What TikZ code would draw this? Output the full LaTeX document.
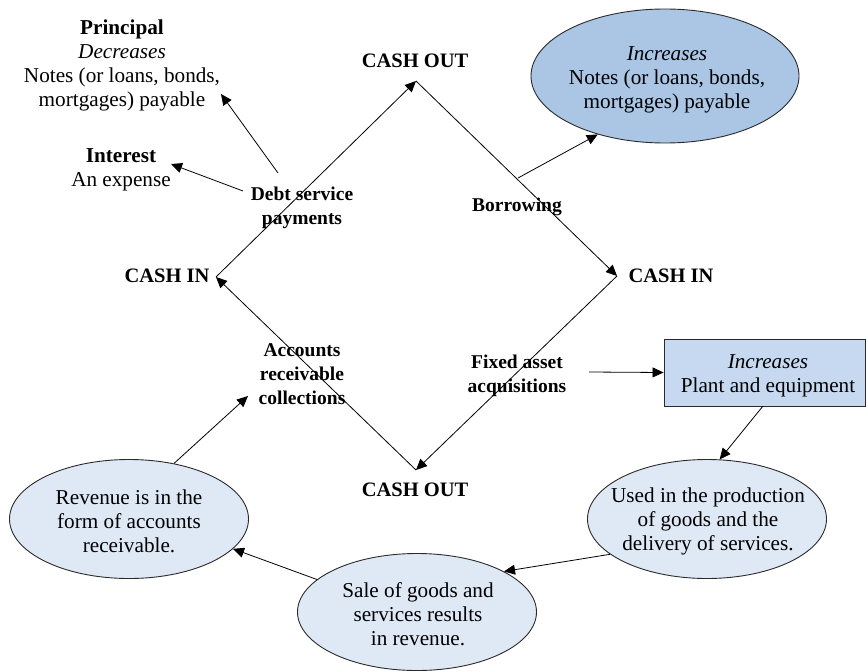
\documentclass[tikz,border=0pt]{standalone}
\usepackage{fontspec}
\setmainfont{Liberation Serif}
\usetikzlibrary{shapes.geometric,arrows.meta}
\definecolor{darkfill}{HTML}{ABC6E5}
\definecolor{rectfill}{HTML}{C6D9F0}
\definecolor{lightfill}{HTML}{DFE9F6}
\definecolor{edgecol}{HTML}{2A2A2A}
\tikzset{
  arr/.style={-{Triangle[length=11pt,width=10pt]}, line width=0.8pt, draw=black},
  lbl/.style={font=\fontsize{19.5}{24}\selectfont\bfseries, align=center, inner sep=0pt},
  biglbl/.style={font=\fontsize{20.5}{24}\selectfont\bfseries, align=center, inner sep=0pt},
  txt/.style={font=\fontsize{21.2}{24}\selectfont, align=center, inner sep=0pt},
  ellbox/.style={ellipse, draw=edgecol, line width=0.9pt, inner sep=0pt},
}
\begin{document}
\begin{tikzpicture}[x=1pt,y=-1pt]
\useasboundingbox (0,0) rectangle (866,671);
% diamond vertices
\coordinate (vT) at (416,81);
\coordinate (vR) at (617,276);
\coordinate (vB) at (416,470);
\coordinate (vL) at (216,277);
% diamond labels
\node[biglbl] (coT) at (415,61) {CASH OUT};
\node[biglbl] (ciL) at (167,276) {CASH IN};
\node[biglbl] (ciR) at (671,276) {CASH IN};
\node[biglbl] (coB) at (415,490) {CASH OUT};
\node[lbl] (debt) at (302,208) {Debt service\\payments};
\node[lbl] (borrow) at (517,207) {Borrowing};
\node[lbl] (fixed) at (517,376) {Fixed asset\\acquisitions};
\node[lbl] (acc) at (302,374) {Accounts\\receivable\\collections};
% diamond edges
\draw[arr] (vL) -- (vT);
\draw[arr] (vT) -- (vR);
\draw[arr] (vR) -- (vB);
\draw[arr] (vB) -- (vL);
% left texts
\node[txt] (princ) at (122,65) {\textbf{Principal}\\\textit{Decreases}\\Notes (or loans, bonds,\\mortgages) payable};
\node[txt] (inter) at (121,170) {\textbf{Interest}\\An expense};
% ellipses and box
\node[ellbox, fill=darkfill, minimum width=268pt, minimum height=134pt] (notes) at (665,76) {};
\node[txt] (notesT) at (667,79.5) {\textit{Increases}\\Notes (or loans, bonds,\\mortgages) payable};
\node[draw=edgecol, line width=0.9pt, fill=rectfill, minimum width=201pt, minimum height=67pt, inner sep=0pt] (plant) at (764.5,372.5) {};
\node[txt] (plantT) at (768,375.5) {\textit{Increases}\\Plant and equipment};
\node[ellbox, fill=lightfill, minimum width=239pt, minimum height=119pt] (used) at (707,519) {};
\node[txt] (usedT) at (708,521.5) {Used in the production\\of goods and the\\delivery of services.};
\node[ellbox, fill=lightfill, minimum width=239pt, minimum height=117pt] (sale) at (417,612) {};
\node[txt] (saleT) at (418,614.5) {Sale of goods and\\services results\\in revenue.};
\node[ellbox, fill=lightfill, minimum width=239pt, minimum height=119pt] (rev) at (129,519) {};
\node[txt] (revT) at (129,521.5) {Revenue is in the\\form of accounts\\receivable.};
% connector end points
\coordinate (dP) at (278,173);
\coordinate (pTip) at (221,94);
\coordinate (dI) at (243,191);
\coordinate (iTip) at (171,164);
\coordinate (bS) at (518,178);
\coordinate (fS) at (589,372);
\coordinate (aTip) at (248,396);
\coordinate (pS) at (763,406);
% connectors
\draw[arr] (dP) -- (pTip);
\draw[arr] (dI) -- (iTip);
\draw[arr] (bS) -- (notes.-139);
\draw[arr] (fS) -- (plant.west);
\draw[arr] (pS) -- (used.78);
\draw[arr] (used.-160) -- (sale.25);
\draw[arr] (sale.162) -- (rev.-16);
\draw[arr] (rev.51) -- (aTip);
\end{tikzpicture}
\end{document}
